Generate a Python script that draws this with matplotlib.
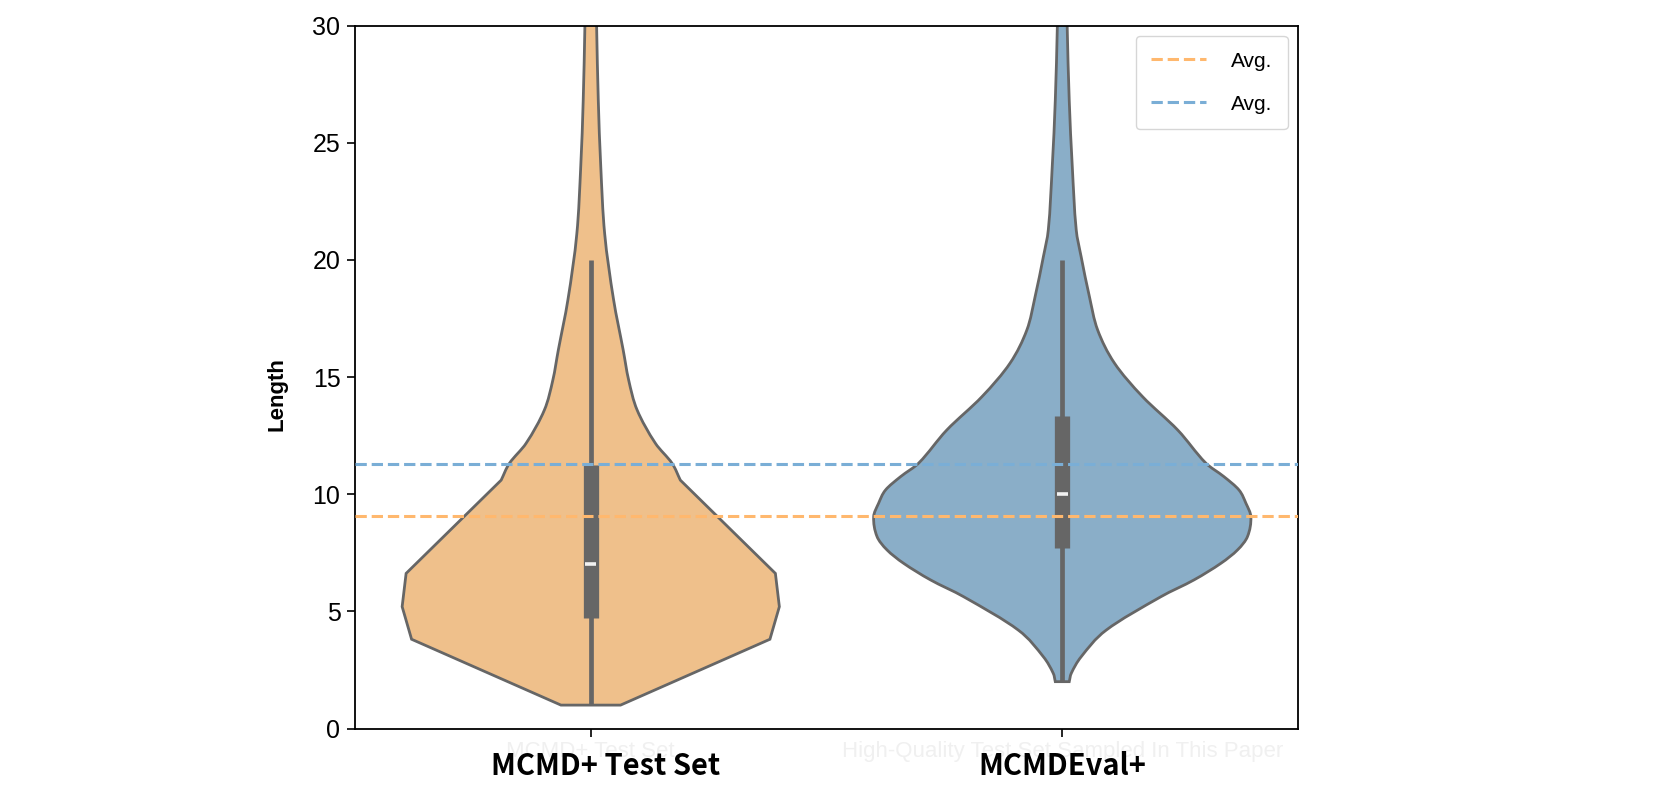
import numpy as np
import matplotlib
matplotlib.use('Agg')
import matplotlib.pyplot as plt
from matplotlib.path import Path
from matplotlib.patches import PathPatch

# categories on the x axis
categories = ['MCMD+ Test Set', 'MCMDEval+']
# faint leftover labels visible under the real ones
ghost_labels = ['MCMD+ Test Set', 'High-Quality Test Set Sampled In This Paper']

# violin outlines: length value and relative width (1 = widest)
test_y = [1.0, 3.81, 5.2, 6.62, 10.6, 11.32, 12.17, 13.59, 14.87, 16.15,
          18.3, 21.1, 24.0, 26.8, 30.0, 31.0]
test_density = [0.158, 0.950, 1.0, 0.979, 0.475, 0.431, 0.343, 0.246, 0.201, 0.172,
                0.121, 0.074, 0.053, 0.040, 0.031, 0.029]
test_corners = [0, 1, 2, 3, 4]   # sharp bends of the first outline

eval_y = [2.0, 2.36, 3.06, 4.2, 5.63, 6.34, 7.05, 7.62, 8.19, 9.04, 9.61, 10.18,
          10.75, 11.32, 12.74, 14.16, 15.59, 17.0, 18.43, 20.14, 21.28, 24.0,
          26.8, 30.0, 31.0]
eval_density = [0.037, 0.048, 0.10, 0.233, 0.524, 0.698, 0.841, 0.929, 0.982, 1.0,
                0.974, 0.937, 0.857, 0.762, 0.612, 0.426, 0.277, 0.188, 0.144, 0.10,
                0.074, 0.053, 0.037, 0.026, 0.024]
eval_corners = [0]

# inner box: whisker low, q1, median, q3, whisker high
test_box = [1.0, 4.7, 7.0, 11.25, 20.0]
eval_box = [2.0, 7.7, 10.0, 13.35, 20.0]

# average lengths (dashed lines)
avg_values = [9.05, 11.3]

fill_colors = ['#efc08b', '#8aaec8']
line_colors = ['#ffb86e', '#7aaed6']
edge = '#666666'


def side_vertices(xs, ys, corners):
    # cubic pieces through the read points, x taken as a function of y
    n = len(xs)
    sec = [(xs[j + 1] - xs[j]) / (ys[j + 1] - ys[j]) for j in range(n - 1)]
    mid = [None] * n
    for j in range(1, n - 1):
        mid[j] = (xs[j + 1] - xs[j - 1]) / (ys[j + 1] - ys[j - 1])
    sharp = set(corners) | {0, n - 1}
    verts = [(xs[0], ys[0])]
    for j in range(n - 1):
        h = ys[j + 1] - ys[j]
        s0 = sec[j] if j in sharp else mid[j]
        s1 = sec[j] if (j + 1) in sharp else mid[j + 1]
        verts.append((xs[j] + s0 * h / 3, ys[j] + h / 3))
        verts.append((xs[j + 1] - s1 * h / 3, ys[j + 1] - h / 3))
        verts.append((xs[j + 1], ys[j + 1]))
    return verts


plt.rcParams['font.family'] = ['Liberation Sans', 'DejaVu Sans']

fig = plt.figure(figsize=(16.55, 7.9), dpi=100)
ax = fig.add_axes([0.2145, 0.0778, 0.5698, 0.8899])

half = 0.4
profiles = [(test_y, test_density, test_corners), (eval_y, eval_density, eval_corners)]
boxes = [test_box, eval_box]
for i, ((ys, dens, corners), box) in enumerate(zip(profiles, boxes)):
    w = np.array(dens) * half
    right = side_vertices(list(i + w), list(ys), corners)
    left = [(2 * i - x, y) for x, y in right[::-1]]
    verts = right + left + [right[0]]
    codes = ([Path.MOVETO] + [Path.CURVE4] * (len(right) - 1) + [Path.LINETO]
             + [Path.CURVE4] * (len(left) - 1) + [Path.CLOSEPOLY])
    ax.add_patch(PathPatch(Path(verts, codes), facecolor=fill_colors[i], edgecolor=edge,
                           linewidth=2, zorder=1))
    lo, q1, med, q3, hi = box
    ax.plot([i, i], [lo, hi], color=edge, linewidth=3.4, solid_capstyle='butt', zorder=2)
    ax.plot([i, i], [q1, q3], color=edge, linewidth=11, solid_capstyle='butt', zorder=2)
    ax.plot([i - 0.012, i + 0.012], [med, med], color='#f2f2f2', linewidth=2.6,
            solid_capstyle='butt', zorder=3)

for val, c in zip(avg_values, line_colors):
    ax.axhline(val, color=c, linestyle='--', linewidth=2.2, label='Avg.', zorder=4)

ax.set_xlim(-0.5, 1.5)
ax.set_ylim(0, 30)
ax.set_xticks(range(len(categories)))
ax.set_xticklabels([])
ax.set_yticks(range(0, 31, 5))
ax.tick_params(axis='y', labelsize=18, length=5.5, width=1.2, pad=5)
ax.tick_params(axis='x', length=5.5, width=1.2)
ax.set_ylabel('Length', fontsize=16, fontweight='bold')
ax.yaxis.set_label_coords(-0.072, 0.476)
for s in ax.spines.values():
    s.set_linewidth(1.3)

for i, g in enumerate(ghost_labels):
    ax.text(i, -0.0178, g, transform=ax.get_xaxis_transform(), ha='center', va='top',
            fontsize=16, color='#f0f0f0', zorder=0, clip_on=False)

# category labels; the first one sits a little right of its tick in the reference
label_dx = [11, 0]
for i, (cat, dx) in enumerate(zip(categories, label_dx)):
    ax.annotate(cat, xy=(i, 0), xycoords=ax.get_xaxis_transform(),
                xytext=(dx, -16), textcoords='offset points', ha='center', va='top',
                fontsize=21, fontweight='bold', family=['Noto Sans CJK SC', 'DejaVu Sans'],
                annotation_clip=False, zorder=5)

ax.legend(loc='upper right', fontsize=15, handlelength=2.6, handletextpad=1.2,
          borderpad=0.75, labelspacing=1.15, borderaxespad=0.5)

fig.savefig('out.png', dpi=100)
